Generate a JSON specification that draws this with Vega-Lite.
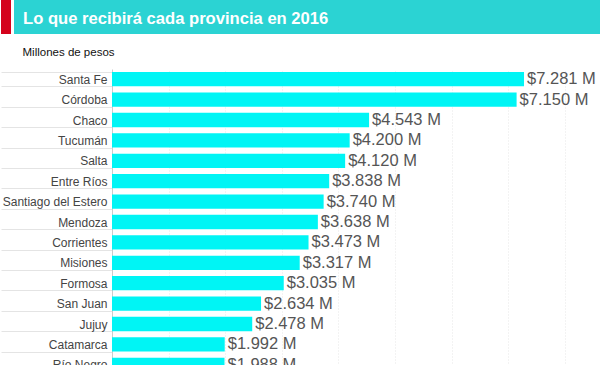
{
  "$schema": "https://vega.github.io/schema/vega-lite/v6.json",
  "padding": 0,
  "spacing": 69,
  "bounds": "flush",
  "background": "white",
  "config": {
    "view": {"stroke": null},
    "font": "Liberation Sans",
    "locale": {"number": {"decimal": ",", "thousands": ".", "grouping": [3], "currency": ["$", " M"]}}
  },
  "vconcat": [
    {
      "spacing": 3,
      "bounds": "flush",
      "hconcat": [
        {
          "width": 10,
          "height": 34,
          "view": {"fill": "#d4021c", "stroke": null},
          "data": {"values": [{"t": ""}]},
          "mark": "text",
          "encoding": {"text": {"field": "t"}}
        },
        {
          "width": 587,
          "height": 34,
          "view": {"fill": "#2bd3d3", "stroke": null},
          "data": {"values": [{"titulo": "Lo que recibirá cada provincia en 2016"}]},
          "mark": {"type": "text", "align": "left", "baseline": "alphabetic", "dx": -284.5, "dy": 7, "fontSize": 16.6, "fontWeight": "bold", "color": "white"},
          "encoding": {"text": {"field": "titulo"}}
        }
      ]
    },
    {
      "spacing": 0,
      "bounds": "flush",
      "hconcat": [
        {
          "width": 111,
          "height": 306,
          "data": {"values": [{"t": ""}]},
          "mark": "text",
          "encoding": {"text": {"field": "t"}}
        },
        {
          "width": 481,
          "height": 306,
          "title": {
            "text": "Millones de pesos",
            "anchor": "start",
            "frame": "bounds",
            "dx": 22,
            "offset": -4,
            "baseline": "alphabetic",
            "fontSize": 11.5,
            "fontWeight": "normal",
            "color": "#111"
          },
          "data": {
            "values": [
              {"provincia": "Santa Fe", "monto": 7281},
              {"provincia": "Córdoba", "monto": 7150},
              {"provincia": "Chaco", "monto": 4543},
              {"provincia": "Tucumán", "monto": 4200},
              {"provincia": "Salta", "monto": 4120},
              {"provincia": "Entre Ríos", "monto": 3838},
              {"provincia": "Santiago del Estero", "monto": 3740},
              {"provincia": "Mendoza", "monto": 3638},
              {"provincia": "Corrientes", "monto": 3473},
              {"provincia": "Misiones", "monto": 3317},
              {"provincia": "Formosa", "monto": 3035},
              {"provincia": "San Juan", "monto": 2634},
              {"provincia": "Jujuy", "monto": 2478},
              {"provincia": "Catamarca", "monto": 1992},
              {"provincia": "Río Negro", "monto": 1988}
            ]
          },
          "encoding": {
            "y": {
              "field": "provincia",
              "type": "nominal",
              "sort": null,
              "scale": {"paddingInner": 0.3, "paddingOuter": 0.15},
              "axis": {
                "title": null,
                "tickBand": "extent",
                "tickSize": 111,
                "tickColor": "#e4e4e4",
                "labelPadding": -106,
                "labelFontSize": 12,
                "labelColor": "#444",
                "labelLimit": 200,
                "domainColor": "#cccccc"
              }
            },
            "x": {
              "field": "monto",
              "type": "quantitative",
              "scale": {"domain": [0, 8500]},
              "axis": {
                "title": null,
                "labels": false,
                "ticks": false,
                "domain": false,
                "grid": true,
                "gridColor": "#e6e6e6",
                "gridDash": [1, 2],
                "values": [1000, 2000, 3000, 4000, 5000, 6000, 7000, 8000]
              }
            }
          },
          "layer": [
            {"mark": {"type": "bar", "color": "#00f5f5"}},
            {
              "mark": {"type": "text", "align": "left", "dx": 3, "fontSize": 16.5, "color": "#555"},
              "encoding": {"text": {"field": "monto", "type": "quantitative", "format": "$,d"}}
            }
          ]
        }
      ]
    }
  ]
}
